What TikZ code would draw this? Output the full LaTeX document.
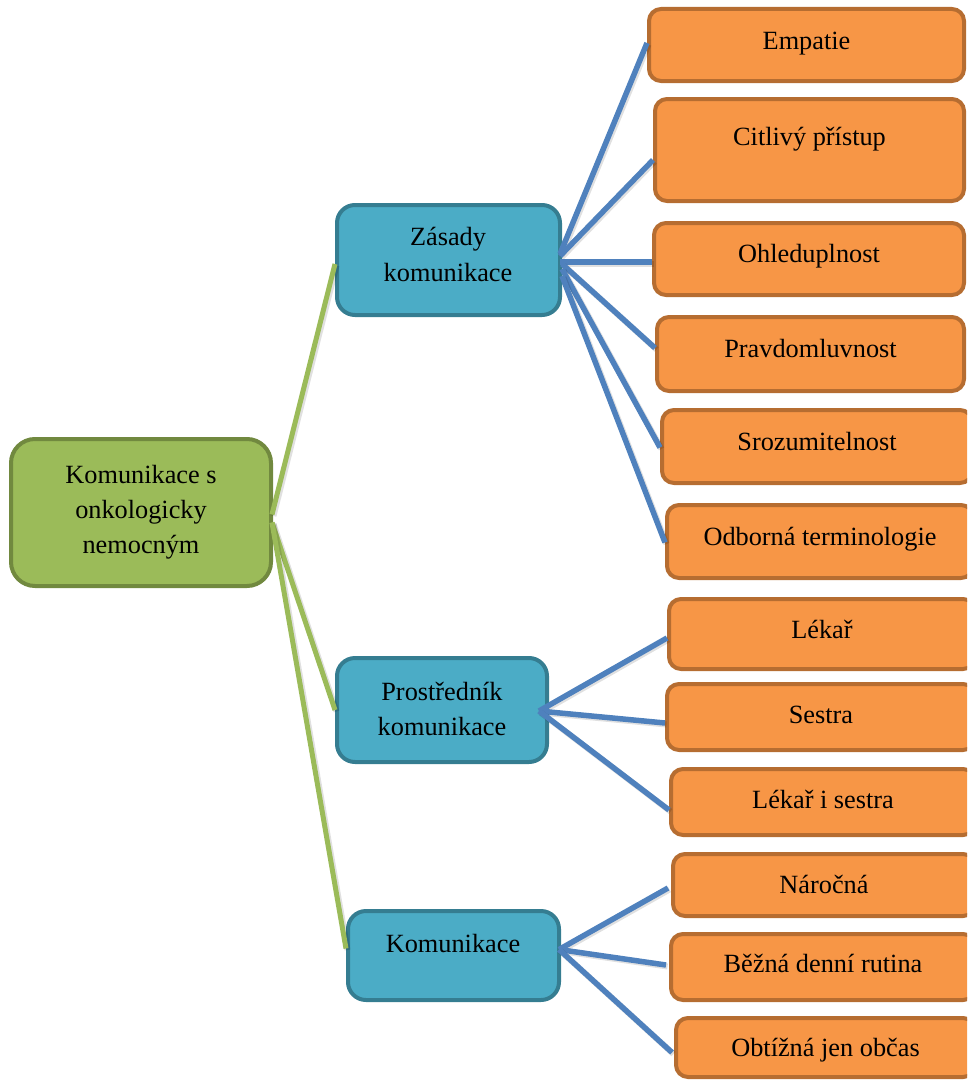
\documentclass[tikz,border=0pt]{standalone}
\usepackage{fontspec}
\setmainfont{Liberation Serif}
\usetikzlibrary{calc}
\definecolor{gfill}{HTML}{9BBB59}
\definecolor{gline}{HTML}{71893F}
\definecolor{bfill}{HTML}{4BACC6}
\definecolor{bline}{HTML}{357D91}
\definecolor{ofill}{HTML}{F79646}
\definecolor{oline}{HTML}{B66D31}
\definecolor{conblue}{HTML}{4F81BD}
\definecolor{congreen}{HTML}{9BBB59}
\tikzset{
  basebox/.style={rectangle, line width=4pt, inner sep=0pt},
  rootbox/.style={basebox, draw=gline, fill=gfill, rounded corners=24pt},
  midbox/.style={basebox, draw=bline, fill=bfill, rounded corners=18pt},
  leafbox/.style={basebox, draw=oline, fill=ofill, rounded corners=12pt},
  lbl/.style={anchor=base, inner sep=0pt, align=center, font=\fontsize{26.3}{35}\selectfont},
  shadowed/.style={preaction={draw=black, draw opacity=0.12, line width=6pt, transform canvas={shift={(1.5pt,-1.5pt)}}}},
  gcon/.style={draw=congreen, line width=5pt, shadowed},
  bcon/.style={draw=conblue, line width=5.5pt, shadowed},
}
\begin{document}
\begin{tikzpicture}[x=1pt,y=-1pt]
\useasboundingbox (0,0) rectangle (967,1081);
\clip (0,0) rectangle (967,1081);
% boxes
\node[rootbox, minimum width=260pt, minimum height=147pt] (root) at (141,512.5) {};
\node[midbox, minimum width=223pt, minimum height=110pt] (zas) at (448.5,260) {};
\node[midbox, minimum width=210pt, minimum height=104pt] (pro) at (442,710) {};
\node[midbox, minimum width=211pt, minimum height=89pt] (kom) at (453.5,955.5) {};
\node[leafbox, minimum width=315pt, minimum height=72pt] (emp) at (806.5,45) {};
\node[leafbox, minimum width=309pt, minimum height=102pt] (cit) at (809.5,150) {};
\node[leafbox, minimum width=310pt, minimum height=72pt] (ohl) at (809,259) {};
\node[leafbox, minimum width=307pt, minimum height=74pt] (pra) at (810.5,354) {};
\node[leafbox, minimum width=310pt, minimum height=73pt] (sro) at (817,446.5) {};
\node[leafbox, minimum width=306pt, minimum height=73pt] (odb) at (820,541.5) {};
\node[leafbox, minimum width=306pt, minimum height=70pt] (lek) at (822,634) {};
\node[leafbox, minimum width=308pt, minimum height=66pt] (ses) at (821,717) {};
\node[leafbox, minimum width=304pt, minimum height=66pt] (lis) at (823,802) {};
\node[leafbox, minimum width=302pt, minimum height=62pt] (nar) at (824,885) {};
\node[leafbox, minimum width=304pt, minimum height=66pt] (bez) at (823,967) {};
\node[leafbox, minimum width=299pt, minimum height=59pt] (obt) at (825.5,1047.5) {};
% connectors
\draw[gcon] ($(root.east)+(-1,2)$) -- ($(zas.west)+(0,4)$);
\draw[gcon] ($(root.east)+(-1,10)$) -- ($(pro.west)+(0,0)$);
\draw[gcon] ($(root.east)+(-1,10)$) -- ($(kom.west)+(0,-7)$);
\draw[bcon] ($(zas.east)+(-2,-6)$) -- ($(emp.west)+(0,-2)$);
\draw[bcon] ($(zas.east)+(-2,-4)$) -- ($(cit.west)+(0,10)$);
\draw[bcon] ($(zas.east)+(-2,2)$) -- ($(ohl.west)+(0,3)$);
\draw[bcon] ($(zas.east)+(0,4)$) -- ($(pra.west)+(0,-6)$);
\draw[bcon] ($(zas.east)+(0,9)$) -- ($(sro.west)+(0,1)$);
\draw[bcon] ($(zas.east)+(0,16)$) -- ($(odb.west)+(0,1)$);
\draw[bcon] ($(pro.east)+(-10,1)$) -- ($(lek.west)+(0,4)$);
\draw[bcon] ($(pro.east)+(-10,1)$) -- ($(ses.west)+(0,6)$);
\draw[bcon] ($(pro.east)+(-10,1)$) -- ($(lis.west)+(0,8)$);
\draw[bcon] ($(kom.east)+(-2,-6)$) -- ($(nar.west)+(-3,3)$);
\draw[bcon] ($(kom.east)+(-2,-6)$) -- ($(bez.west)+(-3,-2)$);
\draw[bcon] ($(kom.east)+(-2,-6)$) -- ($(obt.west)+(-2,5)$);
% labels (multi-line: base = last line's baseline)
\node[lbl] (t-root) at (141,553) {Komunikace s\\onkologicky\\nemocným};
\node[lbl, font=\fontsize{26.3}{36}\selectfont] (t-zas) at (448,281) {Zásady\\komunikace};
\node[lbl] (t-pro) at (442,735) {Prostředník\\komunikace};
\node[lbl] (t-kom) at (453,952) {Komunikace};
\node[lbl] (t-emp) at (806.5,49) {Empatie};
\node[lbl] (t-cit) at (809.5,145) {Citlivý přístup};
\node[lbl] (t-ohl) at (809,262) {Ohleduplnost};
\node[lbl] (t-pra) at (810.5,357) {Pravdomluvnost};
\node[lbl] (t-sro) at (817,450) {Srozumitelnost};
\node[lbl] (t-odb) at (820,545) {Odborná terminologie};
\node[lbl] (t-lek) at (822,638) {Lékař};
\node[lbl] (t-ses) at (821,723) {Sestra};
\node[lbl] (t-lis) at (823,808) {Lékař i sestra};
\node[lbl] (t-nar) at (824,893) {Náročná};
\node[lbl] (t-bez) at (823,972) {Běžná denní rutina};
\node[lbl] (t-obt) at (825.5,1056) {Obtížná jen občas};
\end{tikzpicture}
\end{document}
